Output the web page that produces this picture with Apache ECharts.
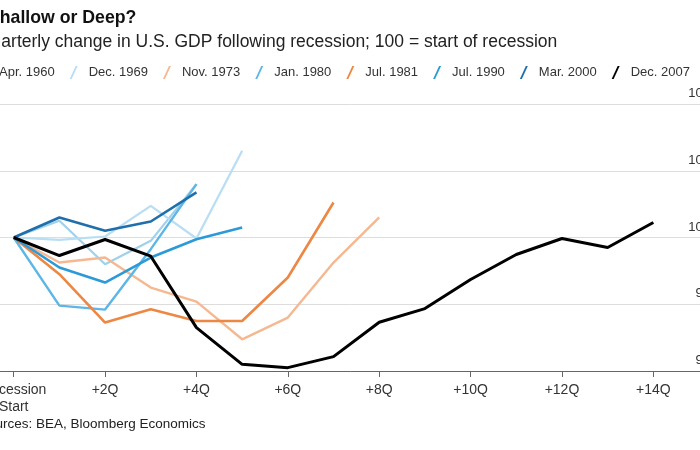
<!DOCTYPE html>
<html>
<head>
<meta charset="utf-8">
<script src="https://cdn.jsdelivr.net/npm/echarts@6/dist/echarts.min.js"></script>
<style>html,body{margin:0;padding:0;background:#fff;}#c{width:700px;height:450px;}</style>
</head>
<body>
<div id="c"></div>
<script>
// Quarter offsets from start of recession
const xTicks = [0, 2, 4, 6, 8, 10, 12, 14];
const yTicks = [96, 98, 100, 102, 104];
const seriesNames = ['Apr. 1960', 'Dec. 1969', 'Nov. 1973', 'Jan. 1980', 'Jul. 1981', 'Jul. 1990', 'Mar. 2000', 'Dec. 2007'];
const apr1960 = [100, 100.5, 99.2, 99.9, 101.6];
const dec1969 = [100, 99.93, 100.03, 100.95, 99.97, 102.6];
const nov1973 = [100, 99.25, 99.4, 98.5, 98.08, 96.95, 97.6, 99.25, 100.6];
const jan1980 = [100, 97.96, 97.84, 99.65, 101.6];
const jul1981 = [100, 98.9, 97.45, 97.85, 97.5, 97.5, 98.8, 101.05];
const jul1990 = [100, 99.1, 98.65, 99.4, 99.95, 100.3];
const mar2000 = [100, 100.6, 100.2, 100.48, 101.35];
const dec2007 = [100, 99.46, 99.94, 99.44, 97.3, 96.2, 96.1, 96.43, 97.46, 97.87, 98.74, 99.49, 99.97, 99.7, 100.45];
const seriesValues = [apr1960, dec1969, nov1973, jan1980, jul1981, jul1990, mar2000, dec2007];
const colors = ['#9fd0ec', '#b8def3', '#f6b890', '#5db6e6', '#ec8744', '#2b9ad6', '#1f6fad', '#000000'];
const widths = [2.2, 2.2, 2.4, 2.4, 2.6, 2.6, 2.6, 3];

const font = 'Liberation Sans, Arial, sans-serif';
const chart = echarts.init(document.getElementById('c'), null, {renderer: 'canvas'});
chart.setOption({
  animation: false,
  backgroundColor: '#ffffff',
  title: [
    {text: 'Shallow or Deep?', left: -12, top: 9, padding: 0,
     textStyle: {fontFamily: font, fontSize: 17.7, fontWeight: 'bold', color: '#111'}},
    {text: 'Quarterly change in U.S. GDP following recession; 100 = start of recession', left: -22, top: 33, padding: 0,
     textStyle: {fontFamily: font, fontSize: 17.5, fontWeight: 'normal', color: '#222'}},
    {text: 'Sources: BEA, Bloomberg Economics', left: -21, top: 417, padding: 0,
     textStyle: {fontFamily: font, fontSize: 13.5, fontWeight: 'normal', color: '#222'}}
  ],
  legend: {
    left: -20, top: 66, width: 1000, padding: 0,
    itemWidth: 8, itemHeight: 13, itemGap: 15,
    icon: 'path://M0,13 L6,0 L8,0 L2,13 Z',
    textStyle: {fontFamily: font, fontSize: 13, color: '#333', padding: [0, 0, 0, 6]},
    data: seriesNames
  },
  grid: {left: 0, right: -10, top: 104, bottom: 79, outerBoundsMode: 'none', containLabel: false},
  xAxis: {
    type: 'value', min: -0.3, max: 15.24,
    axisLine: {show: true, lineStyle: {color: '#666', width: 1}},
    axisTick: {show: true, customValues: xTicks, length: 6, lineStyle: {color: '#666'}},
    axisLabel: {customValues: xTicks, margin: 11, fontFamily: font, fontSize: 14, lineHeight: 17, color: '#333',
      formatter: v => v === 0 ? 'Recession\nStart' : '+' + v + 'Q'},
    splitLine: {show: false}
  },
  yAxis: {
    type: 'value', position: 'right', min: 96, max: 104, interval: 2,
    axisLine: {show: false}, axisTick: {show: false},
    axisLabel: {inside: true, margin: 0, fontFamily: font, fontSize: 13, color: '#333',
      verticalAlign: 'bottom', padding: [0, 0, 4, 0]},
    splitLine: {show: true, lineStyle: {color: '#dddddd', width: 1}}
  },
  series: seriesNames.map((name, i) => ({
    name: name, type: 'line', symbol: 'none', smooth: false,
    color: colors[i],
    lineStyle: {color: colors[i], width: widths[i]},
    emphasis: {disabled: true},
    data: seriesValues[i].map((v, q) => [q, v])
  }))
});
</script>
</body>
</html>
